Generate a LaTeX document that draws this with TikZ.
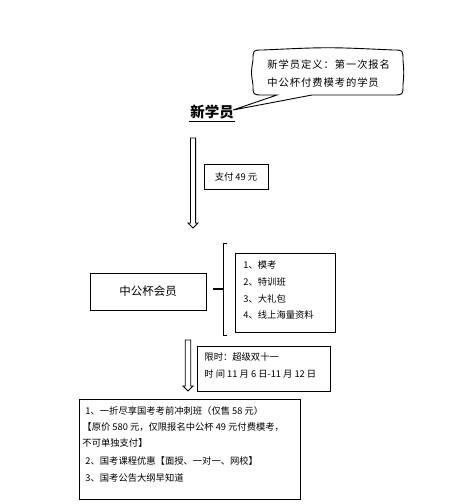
\documentclass[tikz,border=0pt]{standalone}
\usepackage{fontspec}
\setmainfont{Noto Sans CJK SC}
\usetikzlibrary{calc}
\begin{document}
\begin{tikzpicture}[x=1pt,y=-1pt,
  every node/.style={inner sep=0pt},
  box/.style={draw, line width=0.9pt},
  txt/.style={anchor=west, inner sep=0pt},
  smallfont/.style={font=\fontsize{9.3}{11}\selectfont},
  line width=0.9pt]
\useasboundingbox (0,0) rectangle (462,504);

% callout
\coordinate (tip) at (233,110);
\draw (277,95) -- (tip) -- (312,95) -- (393,95)
  .. controls (403,95) .. (403,85) .. controls (404,72) .. (403,60)
  .. controls (403,50) .. (393,50) .. controls (328,47) .. (263,50)
  .. controls (253,50) .. (253,60) .. controls (251,72) .. (253,85)
  .. controls (253,95) .. (263,95) -- cycle;
\node[txt, align=left, font=\fontsize{10.3}{18}\selectfont\addfontfeature{LetterSpace=9}] (def) at (267,74)
  {新学员定义：第一次报名\\中公杯付费模考的学员};

% title
\node[font=\bfseries\fontsize{14.5}{16}\selectfont] (title) at (212,112) {新学员};
\draw[line width=0.8pt] ($(title.south west)+(-1,2)$) -- ($(title.south east)+(1,2)$);

% arrow 1
\coordinate (a1s) at (193,138);
\coordinate (a1e) at (193,228);
\draw[line width=0.8pt] ($(a1s)+(-2.6,0)$) -- ($(a1e)+(-2.6,-5)$) -- ($(a1e)+(-5,-5)$) -- (a1e)
  -- ($(a1e)+(5,-5)$) -- ($(a1e)+(2.6,-5)$) -- ($(a1s)+(2.6,0)$) -- cycle;

\node[box, minimum width=64, minimum height=25, smallfont] (pay) at (236,176.5) {支付 49 元};

% member box
\node[box, minimum width=116, minimum height=37, font=\fontsize{11.5}{13}\selectfont] (member) at (148,291.5) {中公杯会员};

% bracket
\coordinate (bt) at (223,243);
\coordinate (bb) at (223,335);
\coordinate (bm) at (223,289);
\coordinate (stub) at (213,289);
\draw ($(bt)+(4,0)$) -- (bt) -- (bb) -- ($(bb)+(4,0)$);
\draw[line width=2.2pt] (stub) -- (bm);

% list box
\node[box, minimum width=100, minimum height=79] (list) at (285,292.5) {};
\node[txt, smallfont] (l1) at (243,265) {1、模考};
\node[txt, smallfont] (l2) at (243,282) {2、特训班};
\node[txt, smallfont] (l3) at (243,298.5) {3、大礼包};
\node[txt, smallfont] (l4) at (243,315) {4、线上海量资料};

% arrow 2
\coordinate (a2s) at (188,340);
\coordinate (a2e) at (188,391);
\draw[line width=0.8pt] ($(a2s)+(-2.8,0)$) -- ($(a2e)+(-2.8,-5)$) -- ($(a2e)+(-5,-5)$) -- (a2e)
  -- ($(a2e)+(5,-5)$) -- ($(a2e)+(2.8,-5)$) -- ($(a2s)+(2.8,0)$) -- cycle;

% time box
\node[box, minimum width=133, minimum height=45] (time) at (263.5,368.5) {};
\node[txt, smallfont] (t1) at (204,357) {限时：超级双十一};
\node[txt, smallfont] (t2) at (204,374) {时 间 11 月 6 日-11 月 12 日};

% bottom box
\node[box, minimum width=221, minimum height=100] (bottom) at (189.5,449) {};
\node[txt, smallfont] (b1) at (85,411) {1、一折尽享国考考前冲刺班（仅售 58 元）};
\node[txt, smallfont] (b2) at (82,427) {【原价 580 元，仅限报名中公杯 49 元付费模考，};
\node[txt, smallfont] (b3) at (82,443) {不可单独支付】};
\node[txt, smallfont] (b4) at (85,461) {2、国考课程优惠【面授、一对一、网校】};
\node[txt, smallfont] (b5) at (85,478) {3、国考公告大纲早知道};
\end{tikzpicture}
\end{document}
